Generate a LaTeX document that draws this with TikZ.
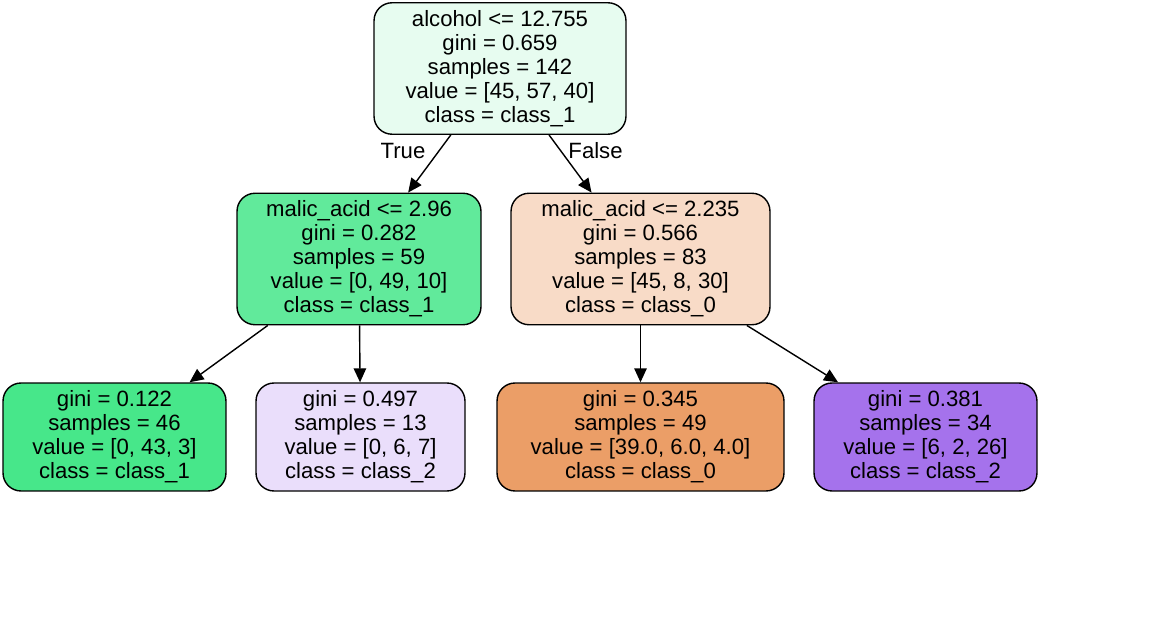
\documentclass[tikz,border=0pt]{standalone}
\usepackage{fontspec}
\setmainfont{Liberation Sans}
\usetikzlibrary{arrows.meta}

\definecolor{cRoot}{HTML}{E7FCF0}
\definecolor{cL}{HTML}{61EA9B}
\definecolor{cR}{HTML}{F8DBC7}
\definecolor{cLL}{HTML}{47E78A}
\definecolor{cLR}{HTML}{EADEFB}
\definecolor{cRL}{HTML}{EB9E67}
\definecolor{cRR}{HTML}{A572EC}

\begin{document}
\begin{tikzpicture}[x=0.02cm, y=-0.02cm,
		every node/.style={font=\fontsize{12.6}{13.66}\selectfont, align=center},
		split/.style={draw, line width=0.8pt, rounded corners=0.36cm, minimum height=2.63cm},
		leaf/.style={draw, line width=0.8pt, rounded corners=0.36cm, minimum height=2.16cm},
		>={Triangle[length=0.28cm, width=0.25cm]}]
		\useasboundingbox (0,0) rectangle (1162,641);
		% splits
		\node[split, fill=cRoot, minimum width=5.04cm] (root) at (500,68.5)
			{alcohol <= 12.755\\gini = 0.659\\samples = 142\\value = [45, 57, 40]\\class = class\_1};
		\node[split, fill=cL, minimum width=4.88cm] (l) at (359,259)
			{malic\_acid <= 2.96\\gini = 0.282\\samples = 59\\value = [0, 49, 10]\\class = class\_1};
		\node[split, fill=cR, minimum width=5.18cm] (r) at (640.5,259)
			{malic\_acid <= 2.235\\gini = 0.566\\samples = 83\\value = [45, 8, 30]\\class = class\_0};
		% leaves
		\node[leaf, fill=cLL, minimum width=4.46cm] (ll) at (114.5,437)
			{gini = 0.122\\samples = 46\\value = [0, 43, 3]\\class = class\_1};
		\node[leaf, fill=cLR, minimum width=4.18cm] (lr) at (360.5,437)
			{gini = 0.497\\samples = 13\\value = [0, 6, 7]\\class = class\_2};
		\node[leaf, fill=cRL, minimum width=5.74cm] (rl) at (640.5,437)
			{gini = 0.345\\samples = 49\\value = [39.0, 6.0, 4.0]\\class = class\_0};
		\node[leaf, fill=cRR, minimum width=4.46cm] (rr) at (925.5,437)
			{gini = 0.381\\samples = 34\\value = [6, 2, 26]\\class = class\_2};
		\path[->, line width=0.8pt]
		(root) edge node[pos=0.28, left=0.14cm] {True} (l)
		(root) edge node[pos=0.28, right=0.02cm] {False} (r)
		(l) edge (ll)
		(l) edge (lr)
		(r) edge (rl)
		(r) edge (rr);
\end{tikzpicture}
\end{document}
